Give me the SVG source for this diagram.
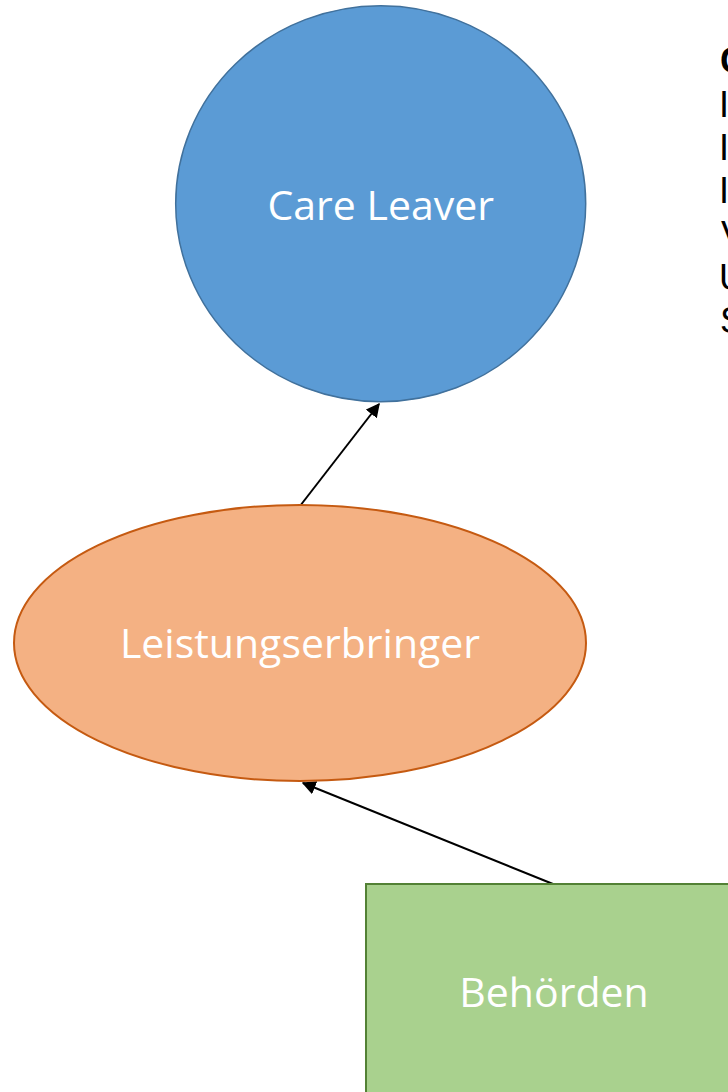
<svg xmlns="http://www.w3.org/2000/svg" width="728" height="1092" viewBox="0 0 728 1092">
<defs>
<style>
.lbl{font-family:"Open Sans","Noto Sans",sans-serif;font-size:41px;fill:#ffffff;text-anchor:middle}
.side{font-family:"Liberation Sans","Arial",sans-serif;font-size:36px;fill:#000000}
.conn{stroke:#000000;stroke-width:2;fill:none;marker-end:url(#arr)}
</style>
<marker id="arr" viewBox="0 0 10 10" refX="9" refY="5" markerWidth="7" markerHeight="7" orient="auto" markerUnits="strokeWidth">
<path d="M0,0 L10,5 L0,10 z" fill="#000000"/>
</marker>
</defs>
<rect width="728" height="1092" fill="#ffffff"/>
<g id="connectors">
<line class="conn" x1="300" y1="506" x2="379" y2="404"/>
<line class="conn" x1="553" y1="884" x2="303" y2="783"/>
</g>
<g id="care-leaver">
<ellipse cx="380.7" cy="203.7" rx="205" ry="198" fill="#5B9BD5" stroke="#41719C" stroke-width="1.5"/>
<text class="lbl" x="380.7" y="220">Care Leaver</text>
</g>
<g id="leistungserbringer">
<ellipse cx="300" cy="643" rx="286" ry="138" fill="#F4B183" stroke="#C55A11" stroke-width="2"/>
<text class="lbl" x="300" y="658">Leistungserbringer</text>
</g>
<g id="behoerden">
<rect x="366" y="884" width="376" height="220" fill="#A9D18E" stroke="#538135" stroke-width="2"/>
<text class="lbl" x="554" y="1007">Behörden</text>
</g>
<g id="side-text">
<text class="side" x="720" y="73" font-weight="bold">C</text>
<text class="side" x="719" y="117">I</text>
<text class="side" x="719" y="160">I</text>
<text class="side" x="719" y="203">I</text>
<text class="side" x="721" y="247">V</text>
<text class="side" x="719" y="290">U</text>
<text class="side" x="720" y="333">S</text>
</g>
</svg>
